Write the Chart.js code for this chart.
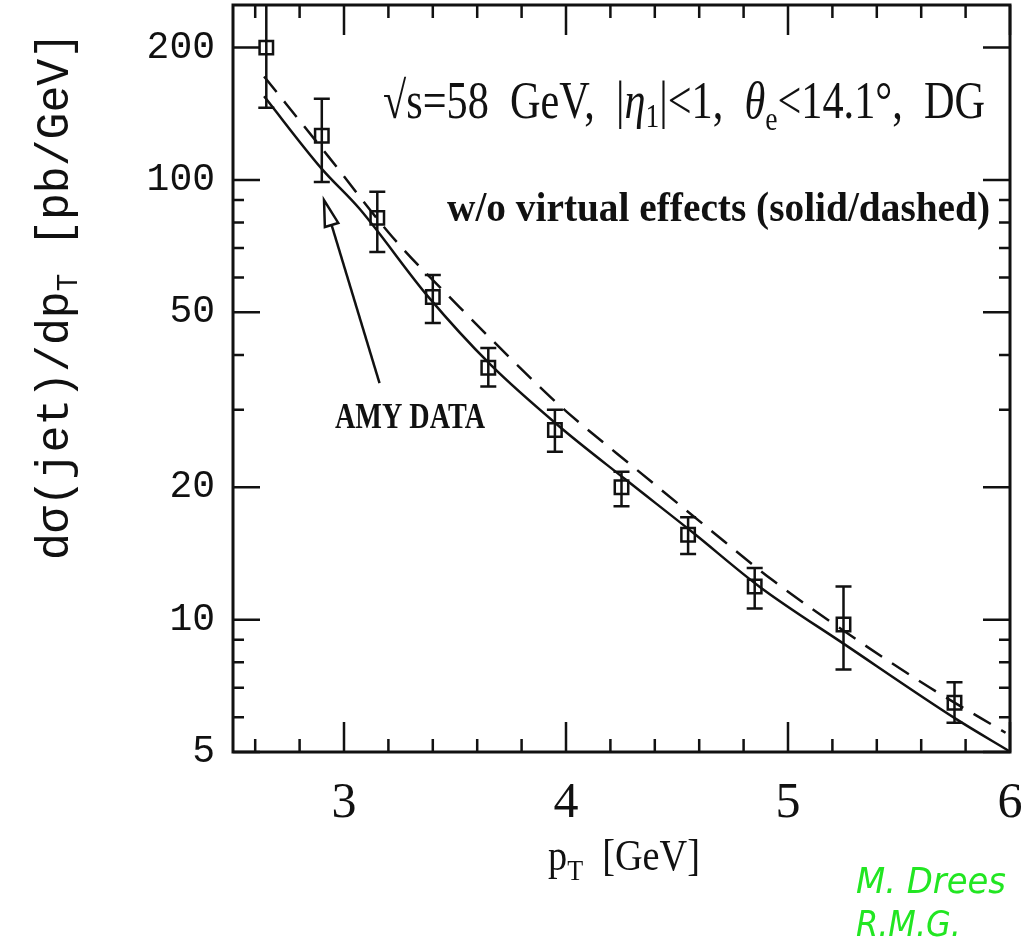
<!DOCTYPE html>
<html>
<head>
<meta charset="utf-8">
<script src="https://cdn.jsdelivr.net/npm/chart.js@4.4.0/dist/chart.umd.min.js"></script>
<style>
  html, body { margin: 0; padding: 0; background: #fff; }
</style>
</head>
<body>
<canvas id="jetChart" width="1029" height="951"></canvas>
<script>
// AMY data: pT bin, value, upper and lower end of the error bar
var dataPt = [2.65, 2.9, 3.15, 3.4, 3.65, 3.95, 4.25, 4.55, 4.85, 5.25, 5.75];
var dataVal = [200, 126, 82, 54.2, 37.4, 27.0, 20.0, 15.6, 11.9, 9.75, 6.47];
var dataHi = [300, 153, 94, 60.8, 41.5, 30.0, 21.7, 17.1, 13.1, 11.9, 7.2];
var dataLo = [146, 99, 68.6, 47.3, 33.9, 24.1, 18.1, 14.1, 10.6, 7.7, 5.83];

// theory curves: solid and dashed
var solidPt = [2.64, 2.90, 3.07, 3.38, 3.66, 3.97, 4.27, 4.57, 4.87, 5.26, 5.76, 6.0];
var solidVal = [155, 106, 86, 54.2, 38.0, 27.5, 20.8, 15.8, 11.9, 8.75, 5.93, 5.01];
var dashedPt = [2.64, 2.93, 3.22, 3.52, 3.91, 4.01, 4.32, 4.63, 4.93, 5.31, 5.64, 5.98];
var dashedVal = [172, 113, 74, 51.4, 32.8, 29.5, 21.9, 16.3, 12.3, 9.0, 7.0, 5.53];

// axis ticks
var xTicks = [3, 4, 5, 6];
var xMinor = [2.6, 2.8, 3.2, 3.4, 3.6, 3.8, 4.2, 4.4, 4.6, 4.8, 5.2, 5.4, 5.6, 5.8];
var yTicks = [5, 10, 20, 50, 100, 200];
var yMinor = [6, 7, 8, 9, 30, 40, 60, 70, 80, 90];

// arrow pointing at the data (tail -> tip, in data coords)
var arrowFrom = { x: 3.16, y: 34.5 };
var arrowTo = { x: 2.91, y: 90 };

function toXY(xs, ys) {
  return xs.map(function (x, i) { return { x: x, y: ys[i] }; });
}

// draws a line of text made of pieces (text, font, dy), squeezed to a given width
function richText(ctx, parts, width) {
  var total = 0;
  parts.forEach(function (p) { ctx.font = p[1]; total += ctx.measureText(p[0]).width; });
  var s = width / total;
  ctx.save();
  ctx.scale(s, 1);
  var cx = 0;
  parts.forEach(function (p) {
    ctx.font = p[1];
    ctx.fillText(p[0], cx, p[2] || 0);
    cx += ctx.measureText(p[0]).width;
  });
  ctx.restore();
}

var framePlugin = {
  id: 'frame',
  afterDatasetsDraw: function (chart) {
    var ctx = chart.ctx;
    var a = chart.chartArea;
    var xs = chart.scales.x, ys = chart.scales.y;
    ctx.save();
    ctx.strokeStyle = '#111';
    ctx.fillStyle = '#111';

    // error bars
    ctx.save();
    ctx.beginPath();
    ctx.rect(a.left, a.top, a.right - a.left, a.bottom - a.top);
    ctx.clip();
    ctx.lineWidth = 2.5;
    dataPt.forEach(function (p, i) {
      var px = xs.getPixelForValue(p);
      var hi = ys.getPixelForValue(dataHi[i]);
      var lo = ys.getPixelForValue(dataLo[i]);
      ctx.beginPath();
      ctx.moveTo(px, hi); ctx.lineTo(px, lo);
      ctx.moveTo(px - 8, hi); ctx.lineTo(px + 8, hi);
      ctx.moveTo(px - 8, lo); ctx.lineTo(px + 8, lo);
      ctx.stroke();
    });
    ctx.restore();

    // frame
    ctx.lineWidth = 3;
    ctx.strokeRect(a.left, a.top, a.right - a.left, a.bottom - a.top);

    // inward ticks on all four sides
    ctx.lineWidth = 2.5;
    ctx.beginPath();
    xTicks.concat(xMinor).forEach(function (v) {
      var len = xTicks.indexOf(v) >= 0 ? 30 : 13;
      var px = xs.getPixelForValue(v);
      ctx.moveTo(px, a.bottom); ctx.lineTo(px, a.bottom - len);
      ctx.moveTo(px, a.top); ctx.lineTo(px, a.top + len);
    });
    yTicks.concat(yMinor).forEach(function (v) {
      var len = yTicks.indexOf(v) >= 0 ? 27 : 11;
      var py = ys.getPixelForValue(v);
      ctx.moveTo(a.left, py); ctx.lineTo(a.left + len, py);
      ctx.moveTo(a.right, py); ctx.lineTo(a.right - len, py);
    });
    ctx.stroke();

    // arrow with open head
    var x0 = xs.getPixelForValue(arrowFrom.x), y0 = ys.getPixelForValue(arrowFrom.y);
    var x1 = xs.getPixelForValue(arrowTo.x), y1 = ys.getPixelForValue(arrowTo.y);
    var ang = Math.atan2(y1 - y0, x1 - x0);
    var hl = 26, hw = 7;
    var bx = x1 - hl * Math.cos(ang), by = y1 - hl * Math.sin(ang);
    ctx.lineWidth = 2.5;
    ctx.beginPath();
    ctx.moveTo(x0, y0); ctx.lineTo(bx, by);
    ctx.stroke();
    ctx.beginPath();
    ctx.moveTo(x1, y1);
    ctx.lineTo(bx + hw * Math.sin(ang), by - hw * Math.cos(ang));
    ctx.lineTo(bx - hw * Math.sin(ang), by + hw * Math.cos(ang));
    ctx.closePath();
    ctx.stroke();

    // texts
    var F = '52px "Liberation Serif"';
    var FI = 'italic 52px "Liberation Serif"';
    var FS = '34px "Liberation Serif"';
    ctx.textBaseline = 'alphabetic';
    ctx.textAlign = 'left';

    ctx.save();
    ctx.translate(383, 118);
    richText(ctx, [['\u221As=58  GeV,  |', F], ['\u03B7', FI], ['1', FS, 9], ['|<1,  ', F],
      ['\u03B8', FI], ['e', FS, 12], ['<14.1\u00B0,  DG', F]], 602);
    ctx.restore();

    ctx.save();
    ctx.translate(447, 221);
    richText(ctx, [['w/o virtual effects (solid/dashed)', 'bold 42px "Liberation Serif"']], 543);
    ctx.restore();

    ctx.save();
    ctx.translate(335, 428);
    richText(ctx, [['AMY DATA', 'bold 36px "Liberation Serif"']], 150);
    ctx.restore();

    // axis titles
    ctx.save();
    ctx.translate(548, 870);
    richText(ctx, [['p', '44px "Liberation Serif"'], ['T', '30px "Liberation Serif"', 10],
      ['  [GeV]', '44px "Liberation Serif"']], 152);
    ctx.restore();

    ctx.save();
    ctx.translate(68, 560);
    ctx.rotate(-Math.PI / 2);
    richText(ctx, [['d\u03C3(jet)/dp', '46px "Liberation Mono"'], ['T', '30px "Liberation Mono"', 9],
      [' [pb/GeV]', '46px "Liberation Mono"']], 528);
    ctx.restore();

    // signature
    ctx.fillStyle = '#22e622';
    ctx.save();
    ctx.translate(856, 893);
    richText(ctx, [['M. Drees', 'italic 36px "DejaVu Sans"']], 150);
    ctx.restore();
    ctx.save();
    ctx.translate(856, 936);
    richText(ctx, [['R.M.G.', 'italic 36px "DejaVu Sans"']], 105);
    ctx.restore();

    ctx.restore();
  }
};

var ctx = document.getElementById('jetChart').getContext('2d');
var jetChart = new Chart(ctx, {
  type: 'scatter',
  data: {
    datasets: [
      {
        label: 'AMY data',
        data: toXY(dataPt, dataVal),
        pointStyle: 'rect',
        pointRadius: 9.5,
        borderColor: '#111',
        borderWidth: 2.5,
        backgroundColor: 'rgba(0,0,0,0)',
        showLine: false
      },
      {
        label: 'solid',
        data: toXY(solidPt, solidVal),
        showLine: true,
        pointRadius: 0,
        borderColor: '#111',
        borderWidth: 2.5,
        cubicInterpolationMode: 'monotone'
      },
      {
        label: 'dashed',
        data: toXY(dashedPt, dashedVal),
        showLine: true,
        pointRadius: 0,
        borderColor: '#111',
        borderWidth: 2.5,
        borderDash: [20, 12],
        cubicInterpolationMode: 'monotone'
      }
    ]
  },
  options: {
    responsive: false,
    animation: false,
    layout: { autoPadding: false, padding: { top: 5, right: 19, left: 0, bottom: 0 } },
    plugins: {
      legend: { display: false },
      tooltip: { enabled: false }
    },
    scales: {
      x: {
        type: 'linear',
        min: 2.5,
        max: 6,
        afterBuildTicks: function (s) { s.ticks = xTicks.map(function (v) { return { value: v }; }); },
        afterFit: function (s) {
          s.height = 199;
          s.paddingLeft = 0; s.paddingRight = 0;
        },
        grid: { display: false, drawTicks: false },
        border: { display: false },
        ticks: {
          autoSkip: false,
          maxRotation: 0,
          padding: 22,
          color: '#111',
          font: { family: 'Liberation Serif', size: 50 }
        }
      },
      y: {
        type: 'logarithmic',
        min: 5,
        max: 250,
        afterBuildTicks: function (s) { s.ticks = yTicks.map(function (v) { return { value: v }; }); },
        afterFit: function (s) {
          s.width = 233;
          s.paddingTop = 0; s.paddingBottom = 0;
        },
        grid: { display: false, drawTicks: false },
        border: { display: false },
        ticks: {
          autoSkip: false,
          padding: 18,
          color: '#111',
          font: { family: 'Liberation Mono', size: 38 },
          callback: function (v) { return String(v); }
        }
      }
    }
  },
  plugins: [framePlugin]
});
</script>
</body>
</html>
